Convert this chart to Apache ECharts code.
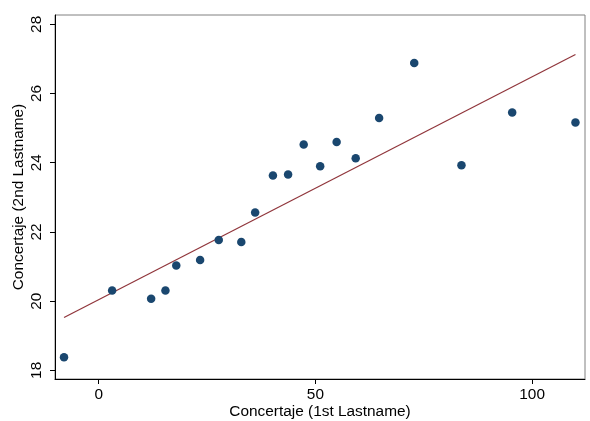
<!DOCTYPE html>
<html>
<head>
<meta charset="utf-8">
<script src="https://cdn.jsdelivr.net/npm/echarts@6/dist/echarts.min.js"></script>
<style>html,body{margin:0;padding:0;background:#fff}#c{width:590px;height:421px}</style>
</head>
<body>
<div id="c"></div>
<script>
var xValues = [-8.0, 3.1, 12.1, 15.4, 17.9, 23.4, 27.7, 32.9, 36.1, 40.2, 43.7, 47.3, 51.1, 54.9, 59.3, 64.7, 72.8, 83.7, 95.4, 110.0];
var yValues = [18.38, 20.31, 20.07, 20.31, 21.03, 21.19, 21.77, 21.71, 22.56, 23.63, 23.66, 24.53, 23.90, 24.60, 24.13, 25.29, 26.88, 23.93, 25.45, 25.16];
var fitX = [-8.0, 110.0];
var fitY = [19.53, 27.13];
var xTicks = [0, 50, 100];
var yTicks = [18, 20, 22, 24, 26, 28];

var font = 'Liberation Sans, Arial, sans-serif';
var chart = echarts.init(document.getElementById('c'), null, {renderer: 'canvas'});
chart.setOption({
  animation: false,
  backgroundColor: '#fff',
  grid: {left: 55, top: 15, right: 5, bottom: 42, show: true, borderColor: '#808080', borderWidth: 1, containLabel: false, outerBoundsMode: 'none'},
  xAxis: {
    type: 'value', min: -10.08, max: 112.2,
    name: 'Concertaje (1st Lastname)', nameLocation: 'middle', nameGap: 25, nameMoveOverlap: false,
    nameTextStyle: {fontFamily: font, fontSize: 15.4, color: '#000'},
    axisLine: {show: true, onZero: false, lineStyle: {color: '#000', width: 1}},
    axisTick: {show: true, length: 5, lineStyle: {color: '#000'}, customValues: xTicks},
    axisLabel: {fontFamily: font, fontSize: 15.4, color: '#000', margin: 8, customValues: xTicks},
    splitLine: {show: false}
  },
  yAxis: {
    type: 'value', min: 17.75, max: 28.27,
    name: 'Concertaje (2nd Lastname)', nameLocation: 'middle', nameGap: 29, nameRotate: 90, nameMoveOverlap: false,
    nameTextStyle: {fontFamily: font, fontSize: 15.4, color: '#000'},
    axisLine: {show: true, onZero: false, lineStyle: {color: '#000', width: 1}},
    axisTick: {show: true, length: 5, lineStyle: {color: '#000'}, customValues: yTicks},
    axisLabel: {fontFamily: font, fontSize: 15.4, color: '#000', margin: 11, rotate: 90, customValues: yTicks},
    splitLine: {show: false}
  },
  series: [
    {
      type: 'line',
      data: fitX.map(function (x, i) { return [x, fitY[i]]; }),
      showSymbol: false, symbol: 'none',
      lineStyle: {color: '#90353b', width: 1.2},
      z: 2
    },
    {
      type: 'scatter',
      data: xValues.map(function (x, i) { return [x, yValues[i]]; }),
      symbol: 'circle', symbolSize: 8.5,
      itemStyle: {color: '#1a476f', opacity: 1},
      z: 3
    }
  ]
});
</script>
</body>
</html>
